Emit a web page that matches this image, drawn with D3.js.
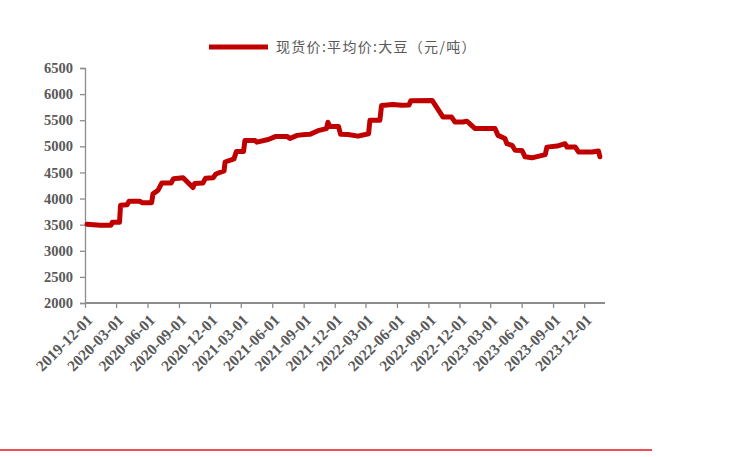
<!DOCTYPE html>
<html><head><meta charset="utf-8">
<script src="https://cdn.jsdelivr.net/npm/d3@7"></script>
<style>body{margin:0;background:#fff;}svg{display:block;}</style>
</head><body>
<svg id="c" width="742" height="457"></svg>
<script>
const seriesName = "现货价:平均价:大豆（元/吨）";
const dates = ["2019-12-07","2020-01-14","2020-02-15","2020-02-19","2020-03-11","2020-03-14","2020-04-02","2020-04-08","2020-05-09","2020-05-16","2020-06-13","2020-06-17","2020-07-02","2020-07-13","2020-08-09","2020-08-16","2020-09-13","2020-10-12","2020-10-17","2020-11-10","2020-11-18","2020-12-10","2020-12-18","2021-01-11","2021-01-14","2021-02-09","2021-02-16","2021-03-09","2021-03-13","2021-04-12","2021-04-17","2021-05-20","2021-06-12","2021-07-14","2021-07-23","2021-08-13","2021-09-05","2021-09-20","2021-10-13","2021-11-07","2021-11-11","2021-11-17","2021-12-12","2021-12-18","2022-01-09","2022-02-07","2022-03-10","2022-03-14","2022-04-12","2022-04-17","2022-05-20","2022-06-16","2022-07-06","2022-07-12","2022-09-12","2022-10-14","2022-11-08","2022-11-18","2022-12-11","2022-12-23","2023-01-07","2023-01-16","2023-03-15","2023-03-24","2023-04-13","2023-04-19","2023-05-04","2023-05-13","2023-06-02","2023-06-11","2023-07-01","2023-08-09","2023-08-14","2023-09-13","2023-10-06","2023-10-12","2023-11-05","2023-11-15","2023-12-24","2024-01-12","2024-01-16"];
const values = [3510,3490,3490,3545,3545,3870,3880,3950,3950,3920,3920,4090,4160,4300,4300,4380,4400,4210,4290,4300,4390,4400,4470,4530,4700,4760,4900,4900,5110,5110,5080,5130,5190,5190,5150,5210,5225,5230,5300,5340,5460,5380,5380,5230,5225,5195,5240,5500,5500,5780,5800,5785,5790,5875,5880,5560,5560,5465,5465,5480,5390,5340,5340,5210,5150,5050,5020,4925,4920,4800,4780,4840,4985,5005,5050,4985,4985,4890,4890,4910,4800];
const xTickLabels = ["2019-12-01","2020-03-01","2020-06-01","2020-09-01","2020-12-01","2021-03-01","2021-06-01","2021-09-01","2021-12-01","2022-03-01","2022-06-01","2022-09-01","2022-12-01","2023-03-01","2023-06-01","2023-09-01","2023-12-01"];
const yTicks = [2000,2500,3000,3500,4000,4500,5000,5500,6000,6500];

const parse = d3.timeParse("%Y-%m-%d");
const data = dates.map((d,i)=>({date:parse(d), value:values[i]}));
const svg = d3.select("#c");
const L=85, R=605, T=68, B=303;
const x = d3.scaleTime().domain([parse("2019-12-01"), parse("2024-01-31")]).range([L,R]);
const y = d3.scaleLinear().domain([2000,6500]).range([B,T]);
const axisColor = "#8c8c8c";
const textColor = "#595959";
const serif = "'Liberation Serif','Times New Roman',serif";

// y axis
const ya = svg.append("g").attr("transform",`translate(${L},0)`)
  .call(d3.axisLeft(y).tickValues(yTicks).tickSize(5).tickPadding(7).tickFormat(d3.format("d")));
ya.select(".domain").attr("stroke",axisColor).attr("stroke-width",1.3);
ya.selectAll(".tick line").attr("stroke",axisColor).attr("stroke-width",1.3);
ya.selectAll("text").attr("fill",textColor).style("font-family",serif).style("font-weight","bold").style("font-size","14.5px");

// x axis
const xa = svg.append("g").attr("transform",`translate(0,${B})`)
  .call(d3.axisBottom(x).tickValues(xTickLabels.map(parse)).tickSize(5).tickFormat(d3.timeFormat("%Y-%m-%d")));
xa.select(".domain").attr("stroke",axisColor).attr("stroke-width",2).attr("d",`M${L},0H${R}`);
xa.selectAll(".tick line").attr("stroke",axisColor).attr("stroke-width",1.3);
xa.selectAll("text").attr("fill",textColor).style("font-family",serif).style("font-weight","bold").style("font-size","15.5px")
  .attr("text-anchor","end").attr("dy",null).attr("y",null)
  .attr("transform","translate(8,18) rotate(-45)");

// line
svg.append("path").datum(data)
  .attr("fill","none").attr("stroke","#C00000").attr("stroke-width",5)
  .attr("stroke-linejoin","round").attr("stroke-linecap","round")
  .attr("d", d3.line().x(d=>x(d.date)).y(d=>y(d.value)));

// legend
svg.append("line").attr("x1",209).attr("x2",268).attr("y1",47).attr("y2",47)
  .attr("stroke","#C00000").attr("stroke-width",5);
svg.append("text").attr("x",276).attr("y",52).text(seriesName)
  .attr("fill",textColor).style("font-family","'Noto Sans CJK SC',sans-serif").style("font-size","14px")
  .style("letter-spacing","1.3px");

// bottom rule
svg.append("line").attr("x1",0).attr("x2",652).attr("y1",450).attr("y2",450)
  .attr("stroke","#e8141b").attr("stroke-width",1.5);
</script>
</body></html>
